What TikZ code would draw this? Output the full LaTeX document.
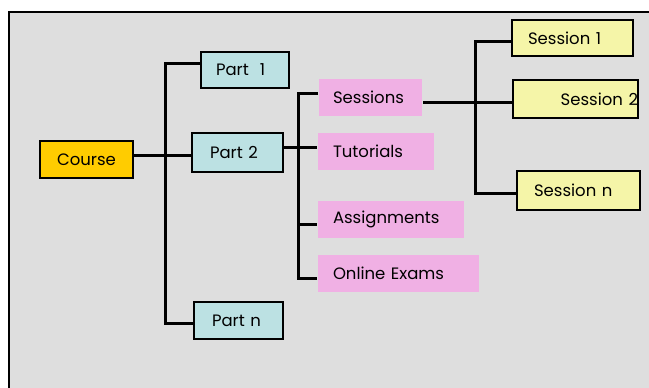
\documentclass[tikz,border=0pt]{standalone}
\usepackage{fontspec}
\setmainfont{Poppins}
\usetikzlibrary{positioning,shapes}

\definecolor{backgray}{HTML}{DEDEDE}
\definecolor{courseyellow}{HTML}{FFCC00}
\definecolor{partcyan}{HTML}{BCE1E3}
\definecolor{itempink}{HTML}{F0B0E4}
\definecolor{sessyellow}{HTML}{F5F5A8}

\tikzstyle{course} = [rectangle, draw=black, line width=2pt, fill=courseyellow, anchor=north west, inner xsep=15pt, inner ysep=0pt, align=left, font=\fontsize{16.5}{19}\selectfont]
\tikzstyle{part} = [course, fill=partcyan]
\tikzstyle{item} = [course, draw=none, fill=itempink]
\tikzstyle{session} = [course, fill=sessyellow]
\tikzstyle{line} = [line width=3pt]

\begin{document}
\begin{tikzpicture}[x=1pt,y=-1pt]

\fill[white] (0,0) rectangle (649,388);
\useasboundingbox (0,0) rectangle (649,388);
\fill[backgray] (9,12) rectangle (649,388);
\draw[line width=2pt] (9,388) -- (9,12) -- (649,12);

\node (course) [course, align=center, text width=63pt, minimum height=37pt] at (39,140) {Course};

\node (part1) [part, text width=58pt, minimum height=36pt] at (200,51) {Part\ \ 1};
\node (part2) [part, inner xsep=18pt, text width=55pt, minimum height=39pt] at (191,132) {Part 2};
\node (partn) [part, inner xsep=18pt, text width=53pt, minimum height=37pt] at (193,301) {Part n};

\node (sessions) [item, inner xsep=14pt, text width=75pt, minimum height=37pt] at (318,78) {Sessions};
\node (tutorials) [item, text width=86pt, minimum height=37pt] at (317,132) {Tutorials};
\node (assign) [item, text width=116pt, minimum height=37pt] at (317,200) {Assignments};
\node (exams) [item, text width=131pt, minimum height=37pt] at (317,254) {Online Exams};

\node (sess1) [session, inner xsep=16pt, text width=89pt, minimum height=36pt] at (511,19) {Session 1};
\node (sess2) [session, inner xsep=0pt, align=right, text width=125pt, minimum height=38pt] at (512,79) {Session 2};
\node (sessn) [session, inner xsep=17pt, text width=89pt, minimum height=39pt] at (516,170) {Session n};

%bus points
\coordinate (trunk) at (165,155);
\coordinate (p1) at (165,63);
\coordinate (pn) at (165,323);
\coordinate (b2top) at (298,93);
\coordinate (b2mid) at (298,147);
\coordinate (b2asg) at (298,224);
\coordinate (b2bot) at (298,278);
\coordinate (s1) at (475,41);
\coordinate (s2) at (475,102);
\coordinate (sn) at (475,193);

%lines
\draw [line] (course.east |- trunk) -- (part2.west |- trunk);
\draw [line] (p1 -| part1.west) -- (p1) -- (pn) -- (pn -| partn.west);

\draw [line] (b2mid -| part2.east) -- (b2mid -| tutorials.west);
\draw [line] (b2top -| sessions.west) -- (b2top) -- (b2bot) -- (b2bot -| exams.west);
\draw [line] (b2asg) -- (b2asg -| assign.west);

\draw [line] (sessions.east |- s2) -- (s2 -| sess2.west);
\draw [line] (s1 -| sess1.west) -- (s1) -- (sn) -- (sn -| sessn.west);

\end{tikzpicture}
\end{document}
